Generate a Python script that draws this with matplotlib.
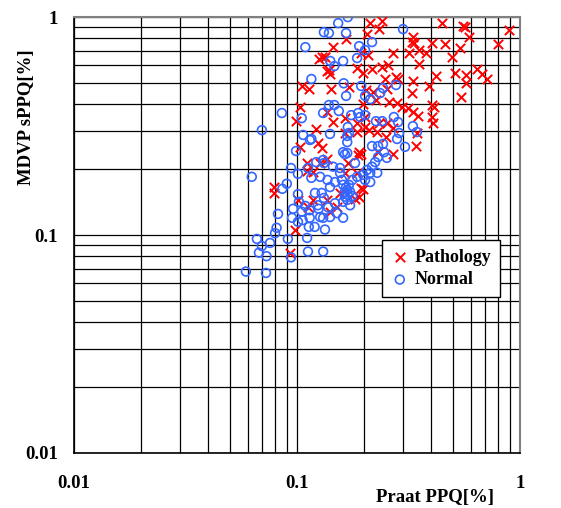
import matplotlib
matplotlib.use("Agg")
import matplotlib.pyplot as plt
from matplotlib.ticker import LogLocator, NullFormatter, FixedLocator

# ---- data ----
path_x = [0.213, 0.241, 0.234, 0.447, 0.555, 0.567, 0.894, 0.206, 0.331, 0.328, 0.335, 0.591,
          0.403, 0.461, 0.797, 0.166, 0.145, 0.269, 0.318, 0.353, 0.379, 0.539, 0.496, 0.209,
          0.194, 0.125, 0.1335, 0.129, 0.353, 0.186, 0.198, 0.217, 0.241, 0.256, 0.137, 0.1406,
          0.139, 0.248, 0.278, 0.284, 0.331, 0.391, 0.420, 0.512, 0.573, 0.642, 0.675, 0.711,
          0.573, 0.545, 0.1053, 0.113, 0.142, 0.171, 0.204, 0.219, 0.253, 0.328, 0.226, 0.198,
          0.259, 0.281, 0.296, 0.315, 0.331, 0.349, 0.403, 0.411, 0.403, 0.407, 0.345, 0.342,
          0.103, 0.099, 0.137, 0.145, 0.164, 0.202, 0.186, 0.202, 0.210, 0.234, 0.253, 0.269,
          0.122, 0.164, 0.186, 0.229, 0.251, 0.124, 0.129, 0.103, 0.190, 0.188, 0.194, 0.231,
          0.269, 0.111, 0.127, 0.137, 0.111, 0.118, 0.169, 0.164, 0.186, 0.194, 0.198, 0.182,
          0.190, 0.079, 0.079, 0.101, 0.118, 0.112, 0.137, 0.1406, 0.151, 0.156, 0.098, 0.093]
path_y = [0.94, 0.96, 0.881, 0.94, 0.91, 0.90, 0.87, 0.836, 0.81, 0.768, 0.76, 0.81,
          0.76, 0.752, 0.752, 0.793, 0.728, 0.684, 0.684, 0.706, 0.684, 0.72, 0.655, 0.669,
          0.684, 0.642, 0.655, 0.655, 0.609, 0.583, 0.553, 0.577, 0.590, 0.602, 0.565, 0.547,
          0.571, 0.520, 0.531, 0.520, 0.509, 0.483, 0.536, 0.553, 0.542, 0.577, 0.547, 0.520,
          0.497, 0.430, 0.483, 0.468, 0.468, 0.478, 0.463, 0.453, 0.468, 0.448, 0.416, 0.399,
          0.407, 0.403, 0.387, 0.383, 0.367, 0.352, 0.395, 0.387, 0.348, 0.327, 0.294, 0.256,
          0.387, 0.333, 0.367, 0.330, 0.344, 0.348, 0.327, 0.313, 0.303, 0.327, 0.327, 0.310,
          0.306, 0.294, 0.297, 0.297, 0.282, 0.264, 0.251, 0.254, 0.240, 0.233, 0.235, 0.240,
          0.235, 0.214, 0.214, 0.223, 0.197, 0.195, 0.214, 0.193, 0.193, 0.164, 0.163, 0.147,
          0.150, 0.166, 0.156, 0.145, 0.145, 0.134, 0.145, 0.128, 0.134, 0.156, 0.106, 0.083]

norm_x = [0.169, 0.153, 0.132, 0.139, 0.166, 0.299, 0.109, 0.190, 0.202, 0.217, 0.186, 0.141,
          0.147, 0.161, 0.116, 0.162, 0.166, 0.194, 0.202, 0.213, 0.243, 0.236, 0.278, 0.0855,
          0.0696, 0.105, 0.131, 0.139, 0.147, 0.154, 0.169, 0.175, 0.188, 0.192, 0.202, 0.226,
          0.241, 0.272, 0.284, 0.331, 0.345, 0.287, 0.281, 0.305, 0.171, 0.168, 0.1406, 0.1065,
          0.1143, 0.116, 0.099, 0.168, 0.217, 0.231, 0.243, 0.246, 0.253, 0.231, 0.224, 0.217,
          0.229, 0.213, 0.206, 0.161, 0.164, 0.168, 0.182, 0.131, 0.132, 0.122, 0.145, 0.156,
          0.112, 0.094, 0.101, 0.116, 0.127, 0.137, 0.0627, 0.086, 0.090, 0.101, 0.102, 0.109,
          0.1204, 0.129, 0.132, 0.124, 0.138, 0.148, 0.156, 0.148, 0.1406, 0.159, 0.161, 0.168,
          0.164, 0.168, 0.161, 0.169, 0.173, 0.177, 0.186, 0.198, 0.202, 0.213, 0.0822, 0.096,
          0.095, 0.105, 0.101, 0.106, 0.114, 0.114, 0.113, 0.120, 0.127, 0.131, 0.1335, 0.1406,
          0.151, 0.161, 0.125, 0.081, 0.0797, 0.091, 0.111, 0.0661, 0.0757, 0.0696, 0.0675,
          0.073, 0.059, 0.0726, 0.094, 0.112, 0.131, 0.171, 0.166, 0.177, 0.163, 0.173]
norm_y = [1.0, 0.938, 0.853, 0.845, 0.845, 0.881, 0.728, 0.736, 0.706, 0.768, 0.649, 0.629,
          0.596, 0.629, 0.520, 0.497, 0.435, 0.483, 0.435, 0.42, 0.473, 0.448, 0.488, 0.363,
          0.303, 0.344, 0.363, 0.395, 0.395, 0.371, 0.313, 0.355, 0.363, 0.348, 0.355, 0.333,
          0.333, 0.348, 0.330, 0.316, 0.297, 0.294, 0.276, 0.254, 0.294, 0.285, 0.291, 0.288,
          0.273, 0.276, 0.243, 0.267, 0.256, 0.256, 0.262, 0.240, 0.226, 0.228, 0.216, 0.206,
          0.193, 0.193, 0.199, 0.240, 0.235, 0.238, 0.214, 0.221, 0.214, 0.216, 0.206, 0.203,
          0.203, 0.203, 0.191, 0.183, 0.185, 0.179, 0.185, 0.163, 0.172, 0.154, 0.142, 0.136,
          0.156, 0.156, 0.148, 0.137, 0.134, 0.140, 0.193, 0.175, 0.166, 0.179, 0.170, 0.161,
          0.150, 0.145, 0.142, 0.153, 0.158, 0.179, 0.185, 0.189, 0.179, 0.175, 0.125, 0.132,
          0.120, 0.128, 0.115, 0.117, 0.130, 0.120, 0.109, 0.109, 0.121, 0.120, 0.106, 0.121,
          0.126, 0.120, 0.132, 0.108, 0.102, 0.096, 0.097, 0.096, 0.092, 0.089, 0.083,
          0.080, 0.068, 0.067, 0.079, 0.084, 0.084, 0.170, 0.165, 0.151, 0.156, 0.137]

x_ticks = [0.01, 0.1, 1]
x_tick_labels = ["0.01", "0.1", "1"]
y_ticks = [0.01, 0.1, 1]
y_tick_labels = ["0.01", "0.1", "1"]

FONT = "Liberation Serif"

fig = plt.figure(figsize=(5.61, 5.08), dpi=100)
ax = fig.add_axes([0.1319, 0.1083, 0.795, 0.858])

ax.set_xscale("log")
ax.set_yscale("log")
ax.set_xlim(0.01, 1)
ax.set_ylim(0.01, 1)

ax.scatter(path_x, path_y, marker="x", s=45, c="#ff0000", linewidths=1.4,
           label="Pathology", zorder=3)
ax.scatter(norm_x, norm_y, marker="o", s=40, facecolors="none", edgecolors="#3366ff",
           linewidths=1.2, label="Normal", zorder=3)

ax.xaxis.set_major_locator(FixedLocator(x_ticks))
ax.yaxis.set_major_locator(FixedLocator(y_ticks))
ax.xaxis.set_minor_locator(LogLocator(base=10, subs=range(2, 10)))
ax.yaxis.set_minor_locator(LogLocator(base=10, subs=range(2, 10)))
ax.xaxis.set_minor_formatter(NullFormatter())
ax.yaxis.set_minor_formatter(NullFormatter())
ax.set_xticklabels(x_tick_labels, fontfamily=FONT, fontweight="bold", fontsize=13.5)
ax.set_yticklabels(y_tick_labels, fontfamily=FONT, fontweight="bold", fontsize=13.5)
ax.tick_params(which="both", length=0)
ax.tick_params(axis="x", pad=16)
ax.tick_params(axis="y", pad=11.5)

ax.grid(True, which="both", color="black", linewidth=0.9)
ax.set_axisbelow(True)
for side in ["left", "bottom"]:
    ax.spines[side].set_color("black")
    ax.spines[side].set_linewidth(1.2)
for side in ["top", "right"]:
    ax.spines[side].set_color("#808080")
    ax.spines[side].set_linewidth(1.5)

ax.set_xlabel("Praat PPQ[%]", fontfamily=FONT, fontweight="bold", fontsize=13.5)
ax.set_ylabel("MDVP sPPQ[%]", fontfamily=FONT, fontweight="bold", fontsize=13.5)
ax.xaxis.set_label_coords(0.81, -0.082)
ax.yaxis.set_label_coords(-0.088, 0.77)

leg = ax.legend(loc="upper left", bbox_to_anchor=(0.69, 0.489), frameon=True,
                fancybox=False, framealpha=1, edgecolor="black",
                prop={"family": FONT, "weight": "bold", "size": 13},
                handletextpad=0.3, borderpad=0.5, labelspacing=0.3,
                handlelength=1.0, borderaxespad=0)
leg.get_frame().set_linewidth(1.0)
leg.set_zorder(5)

fig.savefig("out.png", dpi=100)
